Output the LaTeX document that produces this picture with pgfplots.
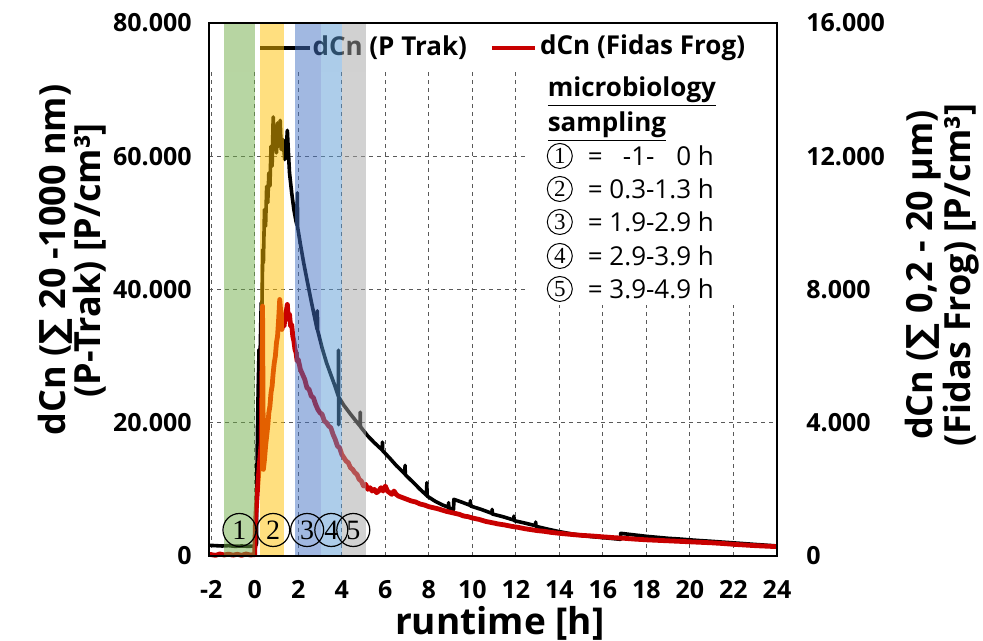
\documentclass[border=0pt]{standalone}
\usepackage{pgfplots}
\pgfplotsset{compat=1.18}
\usepackage{fontspec}
\usepackage{calc}
\setmainfont{Open Sans}
\newfontfamily\dejavu{DejaVu Sans}
\newfontfamily\digfont{Liberation Serif}

\definecolor{bgreen}{RGB}{112,173,71}
\definecolor{byellow}{RGB}{255,192,0}
\definecolor{bblue}{RGB}{68,114,196}
\definecolor{blblue}{RGB}{91,155,213}
\definecolor{bgray}{RGB}{165,165,165}
\definecolor{fidasred}{RGB}{200,0,0}

% P-Trak, left axis [P/cm^3]
\pgfplotstableread{
x y
-2.1 1600
-1.8 1550
-1.5 1500
-1.2 1550
-0.9 1450
-0.6 1500
-0.3 1450
0.0 1500
0.08 1700
0.1 12000
0.13 19400
0.16 25000
0.2 31000
0.25 30500
0.3 38000
0.33 36500
0.37 46000
0.4 44000
0.45 52000
0.5 49500
0.55 55500
0.6 53000
0.65 57500
0.7 55500
0.75 61500
0.8 58500
0.85 65900
0.9 61000
0.95 64000
1.0 60500
1.05 65000
1.1 61500
1.17 65400
1.22 61000
1.3 62500
1.38 59500
1.45 61000
1.5 63900
1.55 60500
1.6 57500
1.7 54500
1.8 52000
1.9 50200
1.95 49600
1.96 54500
1.97 49400
2.1 46800
2.25 44000
2.4 41500
2.6 38200
2.87 34000
2.88 36800
2.89 33900
3.1 31200
3.3 29000
3.5 27200
3.7 25400
3.84 24000
3.85 30900
3.86 19700
3.87 23800
4.1 22600
4.4 21300
4.84 19500
4.85 21600
4.86 19400
5.2 18000
5.5 17000
5.86 15900
5.87 17100
5.88 15800
6.2 14700
6.5 13600
6.9 12300
6.91 13600
6.92 12200
7.3 11000
7.6 10000
7.9 9100
7.91 11000
7.92 9000
8.3 8200
8.6 7700
8.9 7300
8.91 8000
8.92 7200
9.14 7000
9.15 8500
9.5 8100
9.9 7600
9.91 8300
9.92 7500
10.4 7000
10.9 6400
10.91 7000
10.92 6300
11.4 5900
11.9 5400
11.91 6000
11.92 5300
12.4 4950
12.9 4550
12.91 5100
12.92 4450
13.5 4000
14.0 3650
14.5 3350
15.0 3100
15.5 2900
16.0 2750
16.5 2600
16.8 2500
16.82 3400
17.2 3250
17.6 3100
18.0 2950
18.5 2800
19.0 2650
19.5 2550
20.0 2420
20.5 2300
21.0 2200
21.5 2080
22.0 1970
22.5 1850
23.0 1730
23.5 1620
24.0 1500
}\ptrak

% Fidas Frog, right axis [P/cm^3]
\pgfplotstableread{
x y
-2.1 50
-1.8 20
-1.6 60
-1.4 30
-1.2 55
-1.0 25
-0.8 50
-0.6 20
-0.4 60
-0.2 30
0.0 40
0.03 900
0.08 1500
0.15 2200
0.22 2800
0.3 3400
0.33 5500
0.36 7500
0.38 5000
0.4 2600
0.45 2900
0.5 3300
0.55 3600
0.6 3900
0.65 4300
0.7 4500
0.75 4900
0.8 5100
0.85 5500
0.9 5800
0.95 6000
1.0 6400
1.05 6600
1.1 7100
1.15 7700
1.2 7300
1.25 6800
1.3 7000
1.35 6900
1.4 7200
1.45 7350
1.5 7550
1.55 7100
1.6 7250
1.65 6900
1.7 6950
1.75 6600
1.8 6450
1.85 6200
1.9 6100
1.95 5850
2.0 5900
2.1 5600
2.2 5450
2.3 5300
2.4 5050
2.5 5000
2.6 4800
2.7 4750
2.8 4550
2.9 4400
3.0 4300
3.1 4250
3.2 4050
3.3 4000
3.4 3900
3.5 3850
3.6 3650
3.7 3500
3.8 3300
3.9 3250
4.0 3050
4.1 2950
4.2 2850
4.3 2800
4.4 2650
4.5 2600
4.6 2500
4.7 2450
4.8 2300
4.9 2250
5.0 2100
5.1 2150
5.2 2000
5.3 2050
5.4 1950
5.5 2000
5.6 1900
5.7 1950
5.8 2050
5.9 1950
6.0 2100
6.1 1950
6.2 1900
6.3 1850
6.4 1950
6.5 1850
6.6 1800
6.8 1750
7.0 1700
7.2 1650
7.4 1620
7.6 1560
7.8 1530
8.0 1480
8.2 1450
8.4 1420
8.6 1380
8.8 1340
9.0 1310
9.2 1280
9.4 1250
9.6 1200
9.8 1180
10.0 1140
10.3 1100
10.6 1040
10.9 1000
11.2 960
11.5 930
11.8 890
12.1 860
12.4 820
12.7 790
13.0 760
13.3 740
13.6 710
14.0 680
14.5 650
15.0 620
15.5 600
16.0 575
16.5 550
17.0 530
17.5 505
18.0 485
18.5 470
19.0 455
19.5 440
20.0 425
20.5 410
21.0 395
21.5 375
22.0 350
22.5 330
23.0 310
23.5 295
24.0 280
}\fidas

\begin{document}
\begin{tikzpicture}
\pgfplotsset{
  every axis/.append style={
    scale only axis, width=284pt, height=266.5pt,
    xmin=-2.1, xmax=24,
    tick label style={font=\fontsize{12.5}{14}\selectfont\bfseries},
    /pgf/number format/assume math mode=true,
    /pgf/number format/1000 sep={.},
    scaled y ticks=false,
    major tick length=0pt,
  },
}
\begin{axis}[
  name=main,
  ymin=0, ymax=80000,
  xtick={-2,0,...,24}, ytick={0,20000,40000,60000,80000},
  xtick pos=bottom, ytick pos=left,
  grid=major,
  major grid style={dash pattern=on 2pt off 2pt, gray!70!black, line width=0.5pt},
  axis line style={line width=1.2pt},
  xticklabel style={inner sep=0pt, yshift=-12pt},
  yticklabel style={inner sep=0pt, xshift=-8.5pt},
  xlabel={runtime [h]},
  xlabel style={font=\fontsize{18.5}{20}\selectfont\bfseries, inner sep=0pt,
    at={(axis description cs:0.512,0)}, anchor=north, yshift=-25pt},
  ylabel={dCn ({\dejavu ∑} 20 -1000 nm)\\(P-Trak) [P/cm³]},
  ylabel style={font=\fontsize{18}{17.5}\selectfont\bfseries, align=center, inner sep=0pt,
    at={(axis description cs:-0.181,0.555)}, anchor=south},
]
\addplot[black, line width=1.8pt, line join=round] table[x=x, y=y] {\ptrak};
\end{axis}

\begin{axis}[
  ymin=0, ymax=16000,
  axis x line=none, axis y line*=right,
  axis line style={line width=1.2pt},
  ytick={0,4000,8000,12000,16000},
  yticklabel style={inner sep=0pt, xshift=14.5pt, anchor=west},
  ylabel={dCn ({\dejavu ∑} 0,2 - 20 µm)\\(Fidas Frog) [P/cm³]},
  ylabel style={font=\fontsize{18}{17.5}\selectfont\bfseries, align=center, inner sep=0pt,
    at={(axis description cs:1.2254,0.527)}, anchor=north},
  clip=false,
]
\addplot[fidasred, line width=2.4pt, line join=round] table[x=x, y=y] {\fidas};

% white legend strip and text box (hide grid)
\fill[white] (axis cs:-2.1,14520) rectangle (axis cs:24,16000);
\fill[white] (axis cs:12.6,7540) rectangle (axis cs:24,14520);

% legend
\draw[black, line width=1.8pt] (axis cs:0.25,15250) -- (axis cs:2.55,15250);
\node[anchor=west, inner sep=0pt, font=\fontsize{13}{15}\selectfont\bfseries]
  at (axis cs:2.64,15250) {dCn (P Trak)};
\draw[fidasred, line width=1.8pt] (axis cs:10.9,15250) -- (axis cs:12.9,15250);
\node[anchor=west, inner sep=0pt, font=\fontsize{13}{15}\selectfont\bfseries]
  at (axis cs:13.1,15250) {dCn (Fidas Frog)};

% sampling note
\begin{scope}[every node/.style={anchor=west, inner sep=0pt, font=\fontsize{13}{15}\selectfont}]
\node[font=\fontsize{13}{15}\selectfont\bfseries] at (axis cs:13.45,13928) {\underline{microbiology}};
\node[font=\fontsize{13}{15}\selectfont\bfseries] at (axis cs:13.45,12878) {\underline{sampling}};
\node at (axis cs:15.29,12008) {= \makebox[\widthof{0.3}][r]{-1}-\makebox[\widthof{1.3}][r]{0} h};
\node at (axis cs:15.29,11017) {= 0.3-1.3 h};
\node at (axis cs:15.29,10026) {= 1.9-2.9 h};
\node at (axis cs:15.29,9006) {= 2.9-3.9 h};
\node at (axis cs:15.29,8015) {= 3.9-4.9 h};
\end{scope}
\begin{scope}[every node/.style={circle, draw=black, line width=0.5pt, minimum size=12.5pt, inner sep=0pt, font=\digfont\fontsize{11.5}{12}\selectfont}]
\node at (axis cs:14.02,12008) {1};
\node at (axis cs:14.02,11017) {2};
\node at (axis cs:14.02,10026) {3};
\node at (axis cs:14.02,9006) {4};
\node at (axis cs:14.02,8015) {5};
\end{scope}

% sampling windows
\fill[bgreen, opacity=0.5] (axis cs:-1.4,0) rectangle (axis cs:0,16000);
\fill[byellow, opacity=0.5] (axis cs:0.25,0) rectangle (axis cs:1.36,16000);
\fill[bblue, opacity=0.5] (axis cs:1.86,0) rectangle (axis cs:3.06,16000);
\fill[blblue, opacity=0.5] (axis cs:3.06,0) rectangle (axis cs:4.02,16000);
\fill[bgray, opacity=0.5] (axis cs:4.02,0) rectangle (axis cs:5.13,16000);

\begin{scope}[every node/.style={circle, draw=black, line width=0.6pt, minimum size=16.5pt, inner sep=0pt, font=\digfont\fontsize{14}{14}\selectfont}]
\node at (axis cs:-0.7,780) {1};
\node at (axis cs:0.85,780) {2};
\node at (axis cs:2.41,780) {3};
\node at (axis cs:3.52,780) {4};
\node at (axis cs:4.53,780) {5};
\end{scope}

\draw[line width=1.2pt] (rel axis cs:0,0) rectangle (rel axis cs:1,1);
\end{axis}
\path ([shift={(-104.5pt,-42.5pt)}]main.south west) rectangle ([shift={(103pt,11.5pt)}]main.north east);
\end{tikzpicture}
\end{document}
